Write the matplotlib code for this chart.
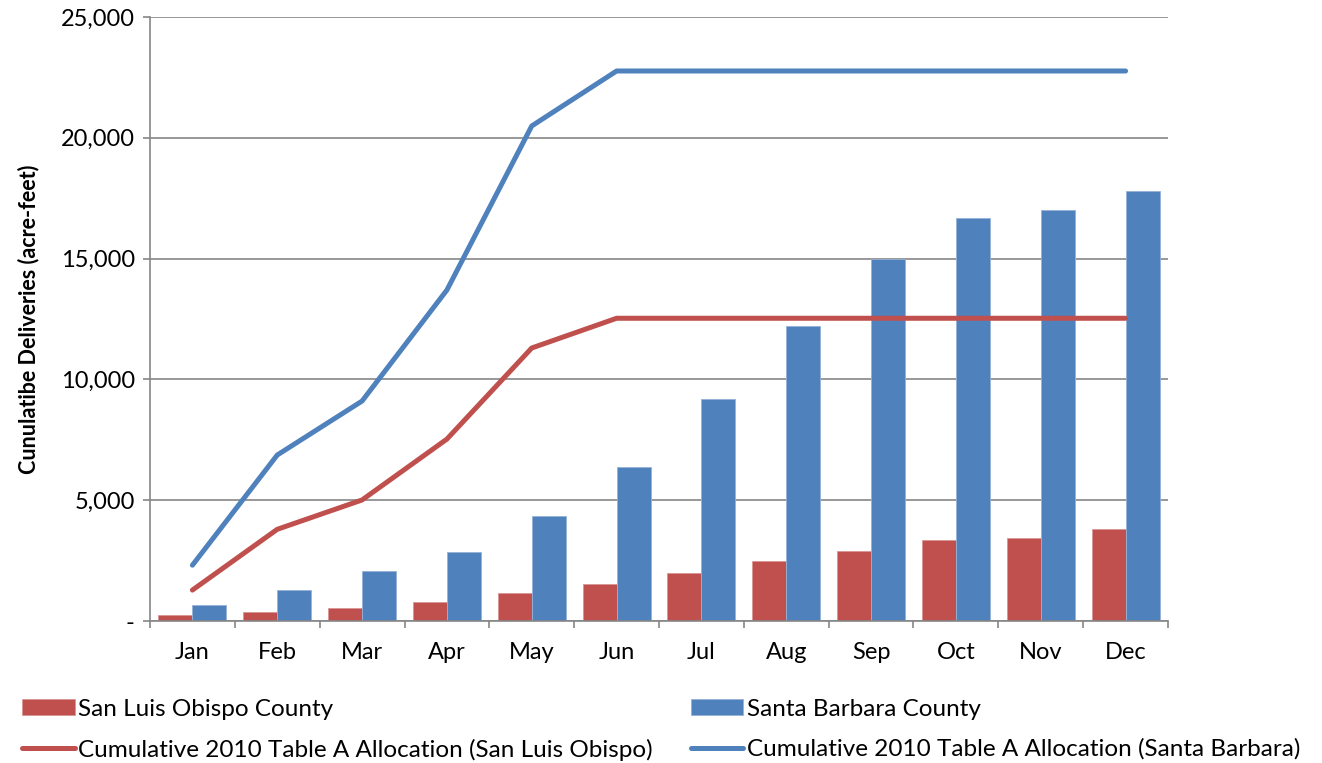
import matplotlib
matplotlib.use("Agg")
import matplotlib.pyplot as plt
import numpy as np
from matplotlib.ticker import FuncFormatter, MultipleLocator, FixedLocator

months = ["Jan", "Feb", "Mar", "Apr", "May", "Jun", "Jul", "Aug", "Sep", "Oct", "Nov", "Dec"]
slo_deliveries = [250, 360, 525, 785, 1145, 1530, 1985, 2470, 2900, 3340, 3450, 3795]
sb_deliveries = [650, 1270, 2070, 2870, 4345, 6370, 9190, 12220, 14970, 16680, 17010, 17785]
slo_allocation = [1280, 3795, 5010, 7530, 11300, 12530, 12530, 12530, 12530, 12530, 12530, 12530]
sb_allocation = [2310, 6870, 9105, 13700, 20490, 22765, 22765, 22765, 22765, 22765, 22765, 22765]

RED = "#C0504D"
BLUE = "#4F81BD"
GRID = "#868686"
FONT = "Lato"

plt.rcParams["font.family"] = [FONT, "DejaVu Sans"]

fig = plt.figure(figsize=(13.22, 7.63), dpi=100)
ax = fig.add_axes([150 / 1322, 1 - 621 / 763, (1168 - 150) / 1322, (621 - 17) / 763])

x = np.arange(len(months))
w = 0.4
b1 = ax.bar(x - w / 2, slo_deliveries, width=w, color=RED, edgecolor="#D99694", linewidth=0.6, zorder=2,
            label="San Luis Obispo County")
b2 = ax.bar(x + w / 2, sb_deliveries, width=w, color=BLUE, edgecolor="#95B3D7", linewidth=0.6, zorder=2,
            label="Santa Barbara County")
l1, = ax.plot(x, slo_allocation, color=RED, linewidth=3.6, solid_capstyle="round", solid_joinstyle="round",
              zorder=3, label="Cumulative 2010 Table A Allocation (San Luis Obispo)")
l2, = ax.plot(x, sb_allocation, color=BLUE, linewidth=3.6, solid_capstyle="round", solid_joinstyle="round",
              zorder=3, label="Cumulative 2010 Table A Allocation (Santa Barbara)")

ax.set_xlim(-0.5, 11.5)
ax.set_ylim(0, 25000)
ax.yaxis.set_major_locator(MultipleLocator(5000))
ax.yaxis.set_major_formatter(FuncFormatter(lambda v, p: "-" if v == 0 else f"{int(v):,}"))
ax.grid(axis="y", color=GRID, linewidth=1.2, zorder=0)
ax.set_axisbelow(True)

ax.set_xticks(x)
ax.set_xticklabels(months, fontsize=17)
ax.tick_params(axis="x", which="major", length=0, pad=15)
ax.xaxis.set_minor_locator(FixedLocator(np.arange(-0.5, 12, 1)))
ax.tick_params(axis="x", which="minor", length=5, color=GRID, width=1.2, direction="out")
ax.tick_params(axis="y", length=5, color=GRID, width=1.2, labelsize=17, pad=6)

for s in ["top", "right"]:
    ax.spines[s].set_visible(False)
for s in ["left", "bottom"]:
    ax.spines[s].set_color(GRID)
    ax.spines[s].set_linewidth(1.2)

ax.set_ylabel("Cunulatibe Deliveries (acre-feet)", fontsize=15.5, fontweight="bold", labelpad=15)

leg = fig.legend(handles=[b1, l1, b2, l2], ncol=2, loc="lower left",
                 bbox_to_anchor=(20 / 1322, 0.0), frameon=False, fontsize=17.5,
                 handlelength=2.15, handleheight=0.6, handletextpad=0.15, columnspacing=1.55,
                 labelspacing=0.78, borderaxespad=0.0, borderpad=0.1)

fig.savefig("out.png", dpi=100)
